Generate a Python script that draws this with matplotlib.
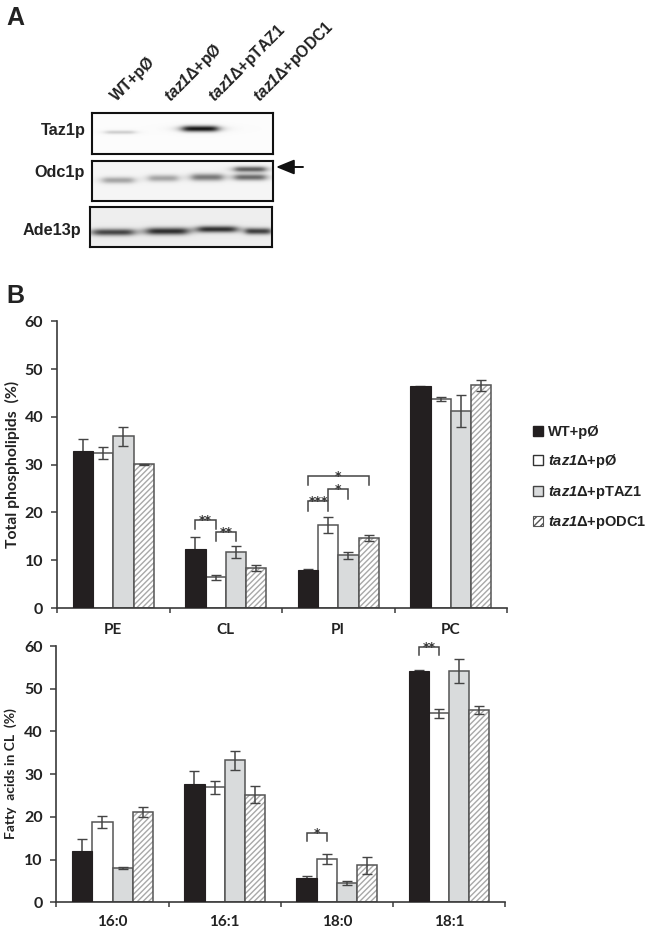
import numpy as np
import matplotlib
matplotlib.use('Agg')
import matplotlib.pyplot as plt
from matplotlib.patches import Patch

W, H = 647, 930
plt.rcParams['mathtext.fontset'] = 'custom'
plt.rcParams['mathtext.rm'] = 'Liberation Sans:bold'
plt.rcParams['mathtext.it'] = 'Liberation Sans:italic:bold'
plt.rcParams['mathtext.bf'] = 'Liberation Sans:bold'
plt.rcParams['mathtext.bfit'] = 'Liberation Sans:italic:bold'

# ---- data ----
series_labels = ['WT+pØ', r'$\mathbfit{taz1}$Δ+pØ', r'$\mathbfit{taz1}$Δ+pTAZ1', r'$\mathbfit{taz1}$Δ+pODC1']
phospho_cats = ['PE', 'CL', 'PI', 'PC']
phospho_wt = [32.8, 12.4, 8.0, 46.4]
phospho_wt_err = [2.5, 2.4, 0.25, 0.1]
phospho_empty = [32.4, 6.4, 17.4, 43.7]
phospho_empty_err = [1.2, 0.6, 1.6, 0.4]
phospho_taz = [35.9, 11.7, 11.0, 41.2]
phospho_taz_err = [1.9, 1.2, 0.8, 3.4]
phospho_odc = [30.1, 8.4, 14.7, 46.6]
phospho_odc_err = [0.1, 0.6, 0.6, 1.2]

fatty_cats = ['16:0', '16:1', '18:0', '18:1']
fatty_wt = [12.1, 27.8, 5.6, 54.1]
fatty_wt_err = [2.8, 2.9, 0.6, 0.3]
fatty_empty = [18.8, 26.9, 10.2, 44.2]
fatty_empty_err = [1.5, 1.6, 1.2, 1.0]
fatty_taz = [8.0, 33.2, 4.5, 54.2]
fatty_taz_err = [0.3, 2.2, 0.4, 2.8]
fatty_odc = [21.1, 25.2, 8.7, 45.0]
fatty_odc_err = [1.1, 2.0, 2.0, 1.0]

# bracket: group, first bar, last bar, top, left foot, right foot, stars
phospho_brackets = [
    (1, 0, 1, 18.4, 16.5, 16.5, '**'),
    (1, 1, 2, 16.0, 14.1, 14.1, '**'),
    (2, 0, 1, 22.3, 20.4, 20.4, '***'),
    (2, 1, 2, 24.8, 22.5, 22.8, '*'),
    (2, 0, 3, 27.7, 25.7, 25.7, '*'),
]
fatty_brackets = [
    (2, 0, 1, 16.2, 14.3, 14.3, '*'),
    (3, 0, 1, 59.8, 57.9, 57.9, '**'),
]

lane_labels = ['WT+pØ', r'$\mathbfit{taz1}$Δ+pØ', r'$\mathbfit{taz1}$Δ+pTAZ1', r'$\mathbfit{taz1}$Δ+pODC1']
blot_names = ['Taz1p', 'Odc1p', 'Ade13p']
# bands: x centre, y centre, half width, half height, darkness (pixels)
taz1_bands = [(120, 132, 15, 1.8, 0.2), (200, 128.5, 18, 3.0, 1.0)]
odc1_bands = [(118, 180, 16, 3.2, 0.36), (163, 178, 15, 3.4, 0.36), (207, 177, 16, 3.6, 0.55),
              (250, 177, 16, 3.2, 0.62), (250, 169, 16, 2.8, 0.68)]
ade13_bands = [(113, 232, 21, 3.4, 0.78), (167, 231, 21, 3.6, 0.88), (217, 229, 20, 3.2, 0.88), (258, 231, 13, 3.2, 0.8)]


def px_axes(x0, y0, x1, y1, **kw):
    return fig.add_axes([x0 / W, 1 - y1 / H, (x1 - x0) / W, (y1 - y0) / H], **kw)


def ftext(x, y, s, **kw):
    return fig.text(x / W, 1 - y / H, s, **kw)


fig = plt.figure(figsize=(W / 100, H / 100), dpi=100, facecolor='white')
SANS = 'Liberation Sans'
CAL = 'Lato'
DARK = '#3a3a3a'
BLACK = '#231f20'

# ---- panel A ----
ftext(6, 25, 'A', fontsize=18, fontweight='bold', family=SANS, color='#222222', ha='left', va='baseline')
ftext(6, 303, 'B', fontsize=18, fontweight='bold', family=SANS, color='#222222', ha='left', va='baseline')


def blot(box, bands, bg):
    x0, y0, x1, y1 = box
    ax = px_axes(x0, y0, x1, y1)
    xs, ys = np.meshgrid(np.arange(x0, x1, 0.5), np.arange(y0, y1, 0.5))
    dark = np.zeros_like(xs)
    for cx, cy, hw, hh, d in bands:
        edge = 1 / (1 + ((xs - cx) / hw) ** 6)
        dark += d * edge * np.exp(-((ys - cy) / hh) ** 2)
    img = np.clip(bg * (1 - np.clip(dark, 0, 1)) + 0.08 * np.clip(dark, 0, 1), 0, 1)
    ax.imshow(img, cmap='gray', vmin=0, vmax=1, aspect='auto', extent=(x0, x1, y1, y0), interpolation='bilinear')
    ax.set_xticks([])
    ax.set_yticks([])
    for s in ax.spines.values():
        s.set_linewidth(1.5)
        s.set_color('#111111')


blot((92, 113, 273, 154), taz1_bands, 0.985)
blot((92, 161, 273, 201), odc1_bands, 0.96)
blot((90, 207, 272, 247), ade13_bands, 0.93)

for (x, y), s in zip([(86, 130), (85, 172), (81, 230)], blot_names):
    ftext(x, y, s, fontsize=11.7, fontweight='bold', family=SANS, color='#222222', ha='right', va='center')

for x, s in zip([117, 170, 214, 259], lane_labels):
    ftext(x, 102, s, fontsize=11.3, fontweight='bold', family=SANS, color='#222222', rotation=45,
          rotation_mode='anchor', ha='left', va='baseline')

arrow_ax = px_axes(0, 0, W, H)
arrow_ax.set_xlim(0, W)
arrow_ax.set_ylim(H, 0)
arrow_ax.axis('off')
arrow_ax.annotate('', xy=(276, 167), xytext=(303, 167),
                  arrowprops=dict(arrowstyle='-|>,head_length=1.1,head_width=0.45', lw=1.4, color='#111111',
                                  shrinkA=0, shrinkB=0))


# ---- panel B ----
def chart(box, cats, vals, errs, brackets, star_size, xpad):
    ax = px_axes(*box)
    width = 0.18
    offs = [-1.5 * width, -0.5 * width, 0.5 * width, 1.5 * width]
    x = np.arange(len(cats)) + 0.5
    ekw = dict(ecolor='#444444', elinewidth=1.1, capsize=3.6, capthick=1.0, fmt='none')
    ax.bar(x + offs[0], vals[0], width, color=BLACK, edgecolor=BLACK, linewidth=0.8, zorder=3)
    ax.bar(x + offs[1], vals[1], width, color='white', edgecolor='#555555', linewidth=1.1, zorder=2)
    ax.bar(x + offs[2], vals[2], width, color='#d9dbdc', edgecolor='#555555', linewidth=1.1, zorder=2)
    ax.bar(x + offs[3], vals[3], width, color='white', edgecolor='#a8a8a8', hatch='//////', linewidth=0, zorder=2)
    ax.bar(x + offs[3], vals[3], width, fill=False, edgecolor='#555555', linewidth=1.1, zorder=2.5)
    for o, v, e in zip(offs, vals, errs):
        ax.errorbar(x + o, v, yerr=e, zorder=2.8, **ekw)
    for g, a, b, top, fl, fr, stars in brackets:
        xa, xb = g + 0.5 + offs[a], g + 0.5 + offs[b]
        ax.plot([xa, xa, xb, xb], [fl, top, top, fr], color='#444444', lw=1.1, zorder=4, clip_on=False,
                solid_joinstyle='miter')
        ax.text((xa + xb) / 2, top - 0.1, stars, ha='center', va='center', fontsize=star_size, fontweight='bold',
                family='DejaVu Sans', color='#333333', zorder=5, clip_on=False)
    ax.set_xlim(0, 4)
    ax.set_ylim(0, 60)
    ax.set_yticks(range(0, 61, 10))
    ax.set_xticks(range(0, 5))
    ax.set_xticklabels([])
    ax.set_xticks(x, minor=True)
    ax.set_xticklabels(cats, minor=True, fontsize=11, fontweight='bold', family=CAL, color='#222222')
    ax.tick_params(axis='x', which='minor', length=0, pad=xpad)
    ax.tick_params(axis='x', which='major', length=3.5, width=1.1, color=DARK)
    ax.tick_params(axis='y', length=4, width=1.1, color=DARK, pad=6, labelsize=11.5, labelcolor='#222222')
    for t in ax.get_yticklabels():
        t.set_fontweight('bold')
        t.set_family(CAL)
    for s in ['top', 'right']:
        ax.spines[s].set_visible(False)
    for s in ['left', 'bottom']:
        ax.spines[s].set_color(DARK)
        ax.spines[s].set_linewidth(1.2)
    ax.patch.set_alpha(0)
    return ax


ax1 = chart((57, 321.3, 507, 608),
            phospho_cats,
            [phospho_wt, phospho_empty, phospho_taz, phospho_odc],
            [phospho_wt_err, phospho_empty_err, phospho_taz_err, phospho_odc_err],
            phospho_brackets, 9, 11)
ax2 = chart((56.5, 646, 505, 902.3),
            fatty_cats,
            [fatty_wt, fatty_empty, fatty_taz, fatty_odc],
            [fatty_wt_err, fatty_empty_err, fatty_taz_err, fatty_odc_err],
            fatty_brackets, 9, 9.5)

ftext(12, 464, 'Total phospholipids  (%)', fontsize=11.3, fontweight='bold', family=CAL, color='#222222',
      rotation=90, ha='center', va='center')
ftext(11, 774, 'Fatty  acids in CL  (%)', fontsize=10, fontweight='bold', family=CAL, color='#222222',
      rotation=90, ha='center', va='center')

handles = [Patch(facecolor=BLACK, edgecolor=BLACK),
           Patch(facecolor='white', edgecolor='#333333'),
           Patch(facecolor='#d9dbdc', edgecolor='#444444'),
           Patch(facecolor='white', edgecolor='#555555', hatch='/////', linewidth=0.8)]
leg = ax1.legend(handles, series_labels, loc='center left', bbox_to_anchor=(533 / W, 1 - 478 / H),
                 bbox_transform=fig.transFigure, frameon=False, handlelength=0.7, handleheight=0.7,
                 handletextpad=0.3, labelspacing=0.92, borderpad=0, borderaxespad=0,
                 prop={'family': SANS, 'weight': 'bold', 'size': 10.5})
for t in leg.get_texts():
    t.set_color('#222222')

fig.savefig('out.png', dpi=100, facecolor='white')
